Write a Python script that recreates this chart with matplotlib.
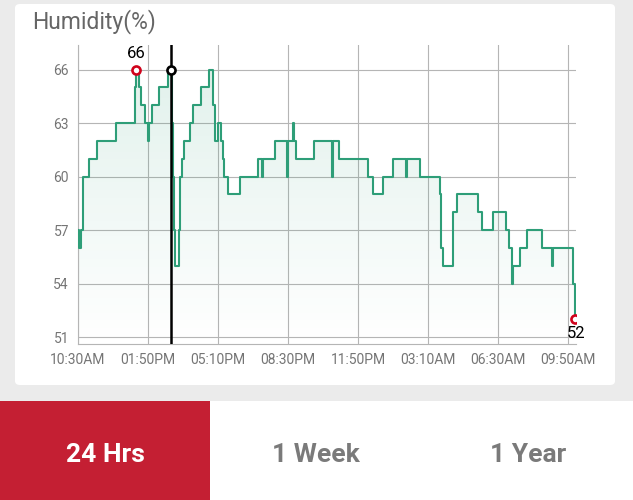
import numpy as np
import matplotlib
matplotlib.use("Agg")
import matplotlib.pyplot as plt
from matplotlib.patches import FancyBboxPatch, Rectangle
from matplotlib.colors import LinearSegmentedColormap

plt.rcParams["font.family"] = ["Roboto", "DejaVu Sans"]

# minutes after 10:30AM where the reading changes, and the reading from then on
times = [0, 3, 9, 14, 31, 55, 108, 163, 167, 174, 180, 191, 199, 203, 212, 231,
         256, 270, 272, 275, 278, 289, 292, 298, 304, 320, 329, 351, 375, 387, 391,
         401, 408, 415, 418, 429, 463, 515, 527, 529, 563, 596, 599, 613, 616,
         622, 673, 725, 729, 746, 829, 842, 872, 901, 937, 941, 977, 1034, 1037,
         1044, 1071, 1082, 1144, 1155, 1187, 1223, 1232, 1240, 1243, 1263, 1282,
         1325, 1353, 1356, 1415, 1419]
humidity = [57, 56, 57, 60, 61, 62, 63, 65, 66, 65, 64, 63, 62, 63, 64, 65,
            66, 63, 60, 57, 55, 57, 60, 61, 62, 63, 64, 65, 66, 64, 62,
            63, 62, 61, 60, 59, 60, 61, 60, 61, 62, 60, 62, 63, 62,
            61, 62, 60, 62, 61, 60, 59, 60, 61, 60, 61, 60, 59, 56,
            55, 58, 59, 58, 57, 58, 57, 56, 54, 55, 56, 57,
            56, 55, 56, 54, 52]

tick_minutes = [0, 200, 400, 600, 800, 1000, 1200, 1400]
tick_labels = ["10:30AM", "01:50PM", "05:10PM", "08:30PM", "11:50PM",
               "03:10AM", "06:30AM", "09:50AM"]
y_ticks = [51, 54, 57, 60, 63, 66]

max_point = (167, 66)
min_point = (1419, 52)
cursor_point = (266, 66)

tabs = ["24 Hrs", "1 Week", "1 Year"]

W, H = 633, 500
fig = plt.figure(figsize=(W / 100, H / 100), dpi=100)
fig.patch.set_facecolor("#ebebeb")


def box(x0, y0, x1, y1):
    return [x0 / W, 1 - y1 / H, (x1 - x0) / W, (y1 - y0) / H]


# white card behind the chart
card = FancyBboxPatch((15 / W, 1 - 385 / H), 600 / W, 381 / H,
                      boxstyle="round,pad=0,rounding_size=0.008",
                      transform=fig.transFigure, fc="white", ec="none", zorder=-10)
fig.patches.append(card)

# tab bar
fig.patches.append(Rectangle((0, 0), 210 / W, 99 / H, transform=fig.transFigure,
                             fc="#c41f33", ec="none", zorder=-10))
fig.patches.append(Rectangle((210 / W, 0), 423 / W, 99 / H, transform=fig.transFigure,
                             fc="white", ec="none", zorder=-10))
tab_x = [105, 316, 528]
for i, (label, x) in enumerate(zip(tabs, tab_x)):
    fig.text(x / W, 1 - 462 / H, label, ha="center", va="baseline", fontsize=19,
             fontweight="bold", color="white" if i == 0 else "#7a7a7a")

fig.text(32 / W, 1 - 28.3 / H, "Humidity(%)", fontsize=16.5, color="#666666",
         va="baseline")

ax = fig.add_axes(box(78, 45, 576, 344.3))
ax.set_facecolor("white")
ymin, ymax = 50.6, 67.38
xmax = 1423

# gradient fill under the line
poly = ax.fill_between(times, humidity, ymin, step="post", fc="none", ec="none")
cmap = LinearSegmentedColormap.from_list(
    "fill", [(0.18, 0.62, 0.47, 0.0), (0.18, 0.62, 0.47, 0.14)])
grad = np.linspace(1, 0, 256).reshape(-1, 1)
im = ax.imshow(grad, extent=[0, xmax, ymin, 66], aspect="auto", cmap=cmap,
               origin="upper", zorder=1)
im.set_clip_path(poly.get_paths()[0], transform=ax.transData)

ax.plot(times, humidity, drawstyle="steps-post", color="#2e9e78", lw=1.5, zorder=3)

ax.axvline(cursor_point[0], color="black", lw=1.8, zorder=4)
ax.plot(*cursor_point, "o", ms=5.8, mfc="white", mec="black", mew=1.9, zorder=5)
ax.plot(*max_point, "o", ms=5.8, mfc="white", mec="#d0021b", mew=1.9, zorder=5)
ax.plot(*min_point, "o", ms=5.8, mfc="white", mec="#d0021b", mew=1.9, zorder=5)
ax.annotate(str(max_point[1]), max_point, xytext=(0, 8.3), textcoords="offset points",
            ha="center", va="baseline", fontsize=12, color="black", zorder=6)
ax.annotate(str(min_point[1]), min_point, xytext=(1.2, -13.2), textcoords="offset points",
            ha="center", va="baseline", fontsize=12, color="black", zorder=6)

ax.set_xlim(0, xmax)
ax.set_ylim(ymin, ymax)
ax.set_xticks(tick_minutes, tick_labels)
ax.set_yticks(y_ticks)
ax.grid(color="#b5b5b5", lw=0.8)
ax.set_axisbelow(True)
ax.tick_params(length=0, pad=6.5, labelsize=10, labelcolor="#757575")
for side in ["top", "right"]:
    ax.spines[side].set_visible(False)
for side in ["left", "bottom"]:
    ax.spines[side].set_color("#b5b5b5")
    ax.spines[side].set_linewidth(0.8)

fig.savefig("out.png", dpi=100)
